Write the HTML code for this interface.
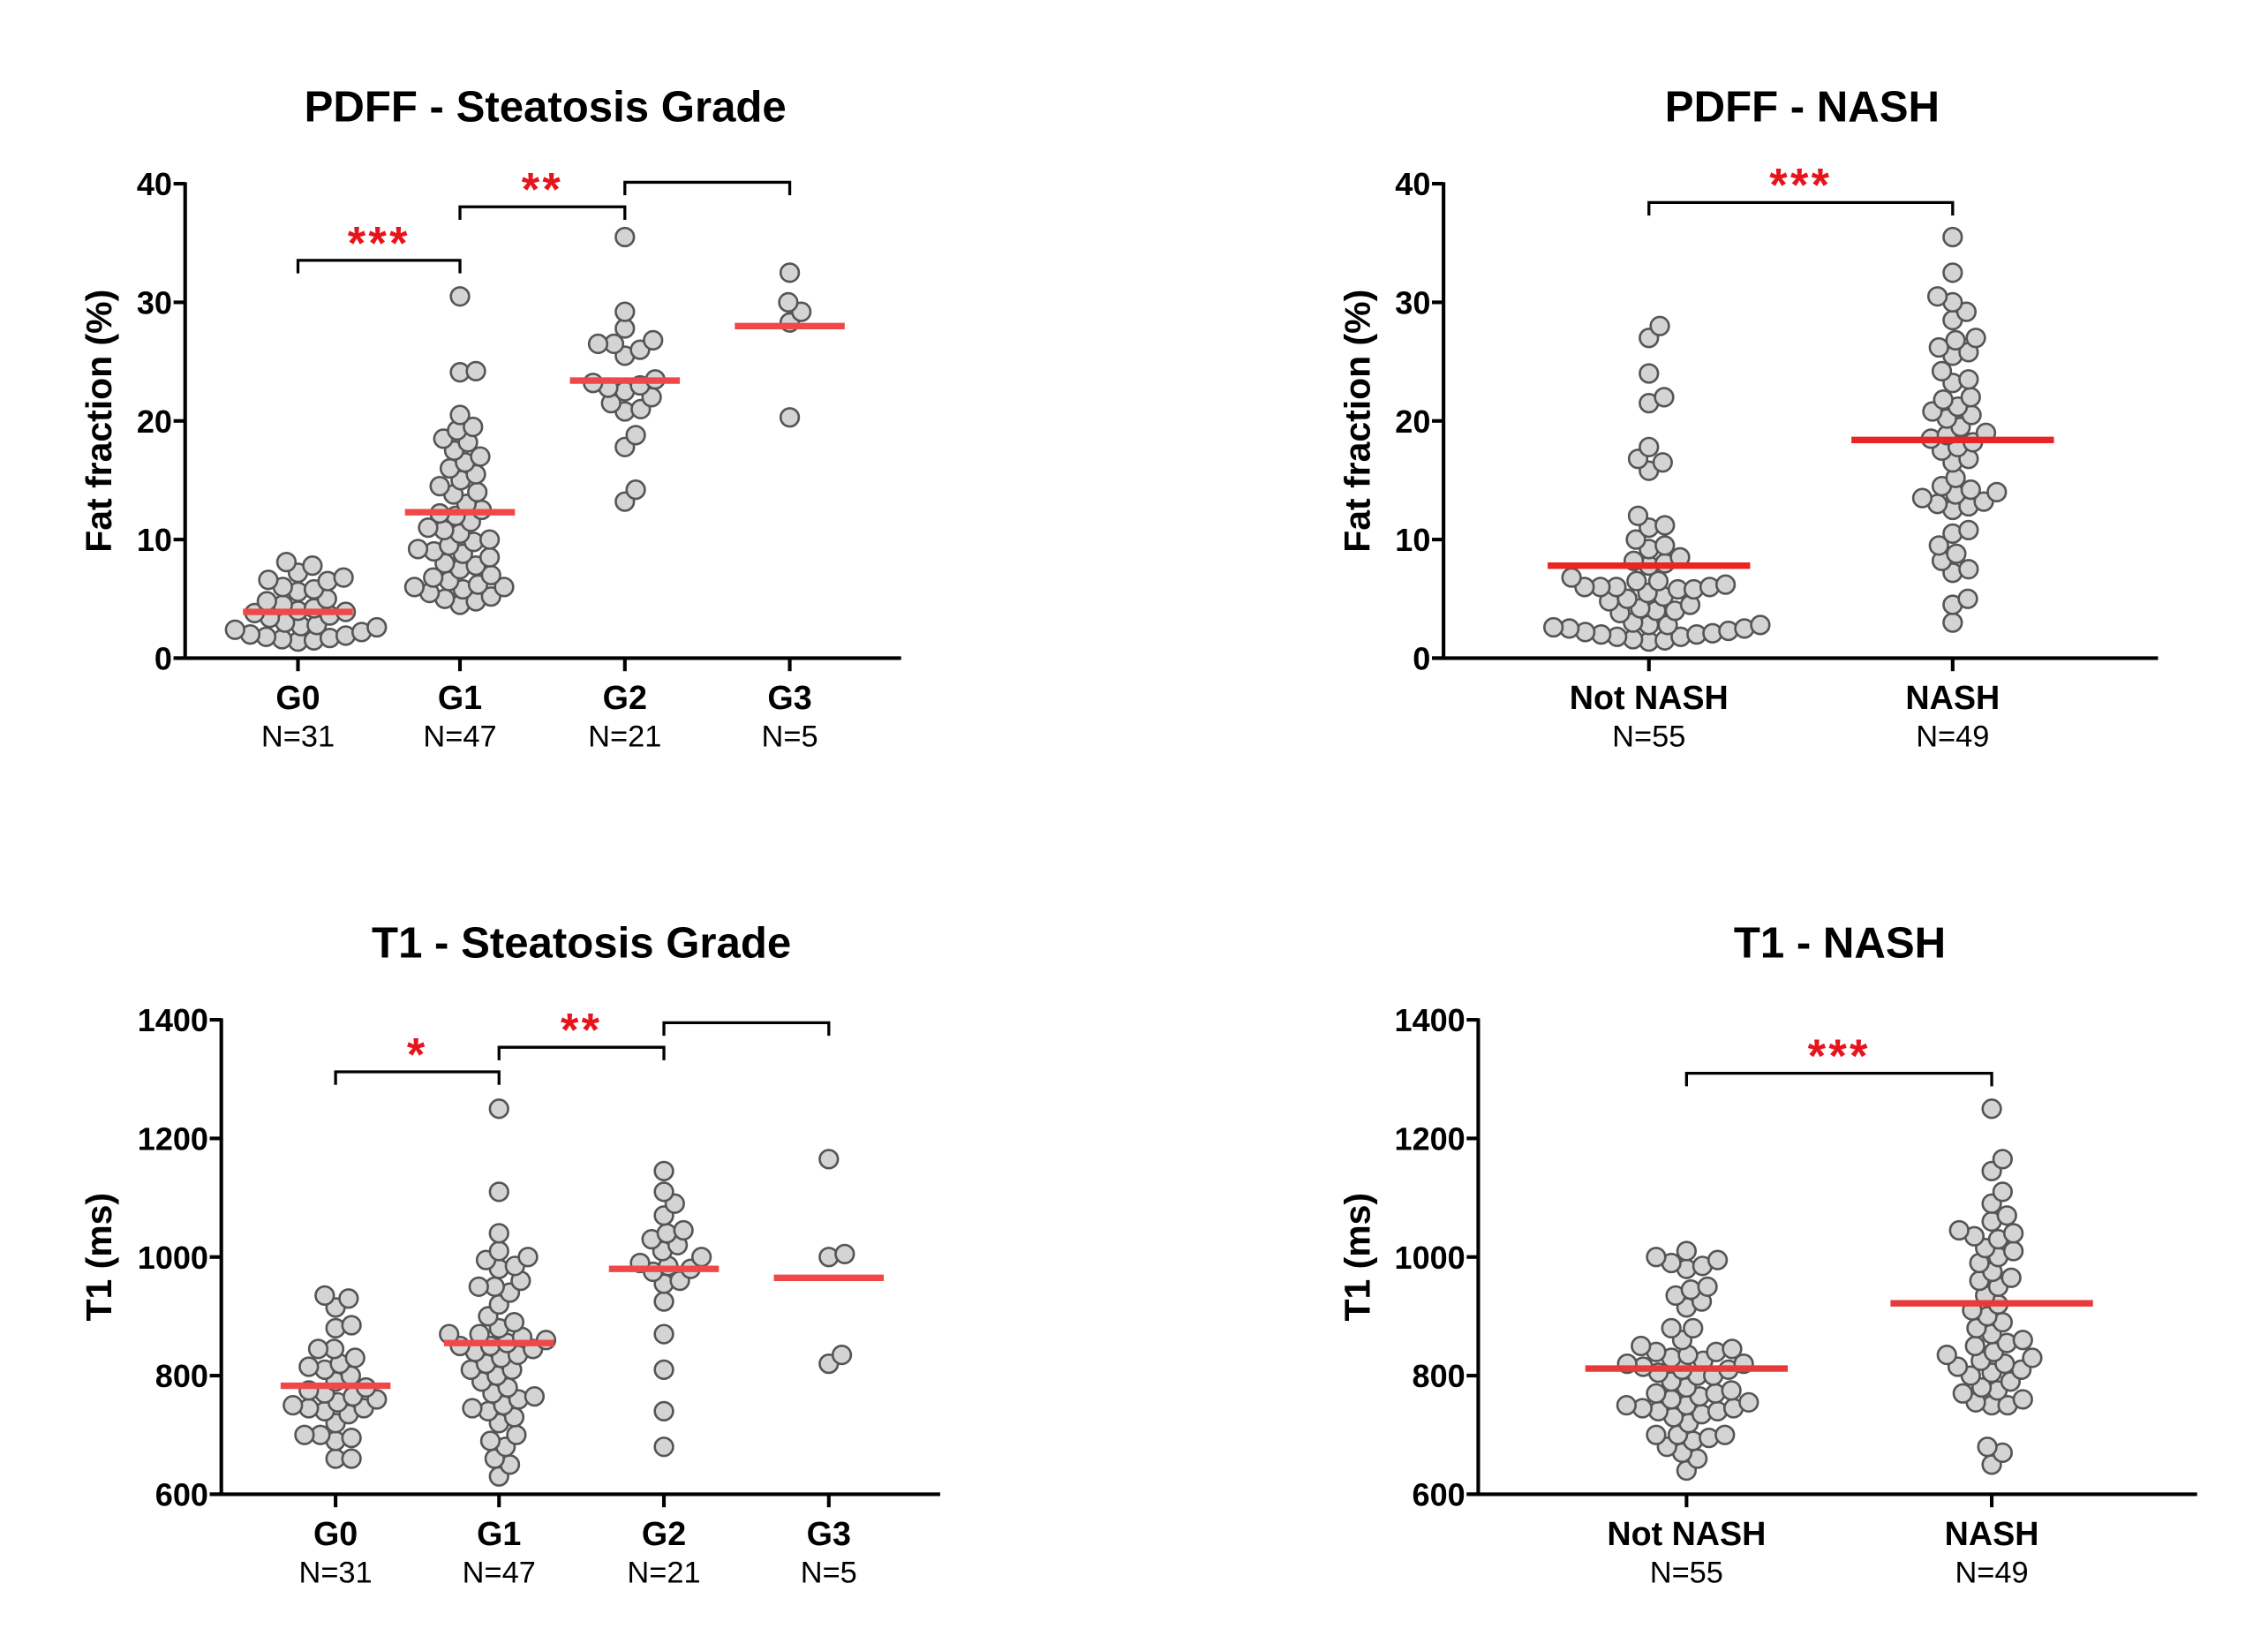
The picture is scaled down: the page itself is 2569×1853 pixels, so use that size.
<!DOCTYPE html>
<html><head><meta charset="utf-8"><style>
html,body{margin:0;padding:0;background:#fff;}
svg{display:block;font-family:"Liberation Sans",Arial,sans-serif;}
</style></head><body>
<svg id="fig" width="2569" height="1853" viewBox="0 0 1568 1131" xmlns="http://www.w3.org/2000/svg"></svg>
<script>
// ---- data ----
const pdffGradeCats = ["G0","G1","G2","G3"];
const pdffGradeNs = ["N=31","N=47","N=21","N=5"];
const pdffG0 = [8.1,7.8,7.2,6.8,6.6,6.5,6.0,5.8,5.6,5.0,4.8,4.5,4.2,4.0,3.9,3.8,3.6,3.4,3.0,2.8,2.7,2.6,2.4,2.2,2.0,1.9,1.8,1.7,1.6,1.5,1.4];
const pdffG1 = [30.5,24.2,24.1,20.5,19.5,19.2,18.5,18.2,17.5,17.0,16.5,16.0,15.5,15.0,14.5,14.0,13.8,13.0,12.5,12.2,12.0,11.5,11.0,10.8,10.5,10.0,9.8,9.5,9.2,9.0,8.8,8.5,8.0,7.8,7.5,7.0,6.8,6.5,6.2,6.0,6.0,5.8,5.5,5.2,5.0,4.8,4.5];
const pdffG2 = [35.5,29.2,27.8,26.8,26.5,26.5,26.0,25.5,23.5,23.2,23.0,22.8,22.5,22.0,21.5,21.0,20.8,18.8,17.8,14.2,13.2];
const pdffG3 = [32.5,30.0,29.2,28.3,20.3];
const pdffGradeMedians = [3.9,12.3,23.4,28.0];

const nashCats = ["Not NASH","NASH"];
const nashNs = ["N=55","N=49"];
const pdffNot = [28,27,24,22,21.5,17.8,16.8,16.5,15.8,12,11.2,11,10,9.5,9.2,8.5,8.2,8,7.8,6.8,6.5,6.5,6.2,6,6,6,6,5.8,5.8,5.5,5.2,5,4.8,4.5,4.2,4,4,3.8,3,2.8,2.8,2.8,2.6,2.5,2.5,2.3,2.2,2.1,2.0,2.0,1.8,1.8,1.6,1.5,1.4];
const pdffNash = [35.5,32.5,30.5,30,29.2,28.5,27,26.8,26.2,25.8,25.5,24.2,23.5,23.2,22,21.8,21.2,20.8,20.5,20.2,19.5,19,18.8,18.5,18.2,17.8,17.5,16.8,16.5,15.2,14.5,14.2,14.0,13.8,13.5,13.2,13.0,12.8,12.5,10.8,10.5,9.5,8.8,8.2,7.5,7.2,5,4.5,3];
const pdffNashMedians = [7.8,18.4];

const t1G0 = [935,930,915,885,880,845,845,830,820,815,810,800,790,780,775,770,765,760,755,750,745,745,740,735,720,700,700,695,690,660,660];
const t1G1 = [1250,1110,1040,1010,1000,995,985,980,960,950,950,940,920,900,890,880,870,870,865,860,855,850,850,845,840,835,830,820,810,810,800,790,780,770,765,760,750,745,740,730,720,700,690,680,660,650,630];
const t1G2 = [1145,1110,1090,1070,1045,1040,1030,1020,1010,1000,990,985,980,975,960,955,925,870,810,740,680];
const t1G3 = [1165,1005,1000,835,820];
const t1GradeMedians = [783,855,980,965];
const t1Not = [1010,1000,995,990,985,980,950,945,935,925,915,880,880,860,850,845,840,840,835,830,825,820,820,815,810,810,805,800,800,790,780,775,770,770,765,760,755,750,750,745,745,740,740,735,730,720,700,700,700,695,690,680,670,660,640];
const t1Nash = [1250,1165,1145,1110,1090,1070,1060,1045,1040,1035,1030,1015,1010,1000,990,975,965,960,950,935,920,910,900,890,880,870,860,855,850,840,835,830,825,820,815,810,805,800,790,780,775,770,760,755,750,750,680,670,650];
const t1NashMedians = [812,922];

const pdffTicks = [0,10,20,30,40];
const t1Ticks = [600,800,1000,1200,1400];

// ---- drawing ----
const NS="http://www.w3.org/2000/svg";
const svg=document.getElementById('fig');
function mk(tag,attrs,parent,text){const e=document.createElementNS(NS,tag);for(const k in attrs)e.setAttribute(k,attrs[k]);if(text!==undefined)e.textContent=text;(parent||svg).appendChild(e);return e;}

function swarm(vals,cx,ys,r){
  const sorted=vals.slice().sort((a,b)=>a-b);const placed=[];const out=[];
  for(const v of sorted){const y=ys(v);let best=0;
    for(let k=0;k<400;k++){const off=(k%2?1:-1)*Math.ceil(k/2)*0.5;let ok=true;
      for(const p of placed){const dx=p.x-(cx+off),dy=p.y-y;if(dx*dx+dy*dy<(2*r*0.86)**2){ok=false;break;}}
      if(ok){best=off;break;}}
    placed.push({x:cx+best,y});out.push({x:cx+best,y,v});}
  return out;
}

function panel(o){
  const g=mk('g',{});
  const ys=v=>o.y0+(v-o.ticks[0])/(o.ticks[o.ticks.length-1]-o.ticks[0])*(o.y1-o.y0);
  const xs=i=>o.cx[i];
  const t=mk('text',{x:o.titleX,y:o.y1-43,'text-anchor':'middle','font-size':30,'font-weight':'bold',fill:'#000'},g,o.title);
  
  const yt=mk('text',{transform:`translate(${o.ytx},${(o.y0+o.y1)/2}) rotate(-90)`,'text-anchor':'middle','font-size':25,'font-weight':'bold',fill:'#000'},g,o.ylabel);
  
  const ya=mk('line',{x1:o.ax,y1:o.y0+1,x2:o.ax,y2:o.y1-1,stroke:'#000','stroke-width':2.5},g);
  
  o.ticks.forEach(tv=>{const y=ys(tv);
    mk('line',{x1:o.ax-8,y1:y,x2:o.ax,y2:y,stroke:'#000','stroke-width':2.5},g);
    const tl=mk('text',{x:o.ax-9,y:y+8,'text-anchor':'end','font-size':22,'font-weight':'bold',fill:'#000'},g,String(tv));
    });
  const xa=mk('line',{x1:o.ax-8,y1:o.y0,x2:o.xend,y2:o.y0,stroke:'#000','stroke-width':2.5},g);
  
  o.cats.forEach((c,i)=>{const x=xs(i);
    mk('line',{x1:x,y1:o.y0,x2:x,y2:o.y0+9,stroke:'#000','stroke-width':2.5},g);
    const cl=mk('text',{x:x,y:o.y0+35,'text-anchor':'middle','font-size':23,'font-weight':'bold',fill:'#000'},g,c);
    
    const nl=mk('text',{x:x,y:o.y0+61,'text-anchor':'middle','font-size':21,fill:'#000'},g,o.ns[i]);
    });
  o.groups.forEach((vals,i)=>{
    const pts=swarm(vals,xs(i),ys,6.3);
    pts.forEach(p=>{const c=mk('circle',{cx:p.x,cy:p.y,r:6.3,fill:'#d4d4d4',stroke:'#555','stroke-width':1.6},g);
      });
  });
  o.medians.forEach((m,i)=>{const y=ys(m);
    const l=mk('line',{x1:xs(i)-o.mw,y1:y,x2:xs(i)+o.mw,y2:y,stroke:o.mcol,'stroke-width':4.5},g);
    });
  o.brackets.forEach(b=>{const x1=xs(b[0]),x2=xs(b[1]),y=b[2];
    const p=mk('path',{d:`M${x1},${y+9}V${y}H${x2}V${y+9}`,fill:'none',stroke:'#000','stroke-width':2},g);
    
    if(b[3]){const s=mk('text',{x:(x1+x2)/2,y:y-1,'text-anchor':'middle','font-size':32,'font-weight':'bold',fill:'#e8141c','letter-spacing':2},g,b[3]);
      }});
}

panel({name:'pdff-grade-panel',title:'PDFF - Steatosis Grade',titleX:377,ylabel:'Fat fraction (%)',ax:128,ytx:77,xend:623,y0:455,y1:127,ticks:pdffTicks,
  cats:pdffGradeCats,ns:pdffGradeNs,cx:[206,318,432,546],groups:[pdffG0,pdffG1,pdffG2,pdffG3],medians:pdffGradeMedians,mw:38,mcol:'#f04848',
  brackets:[[0,1,180,'***'],[1,2,143,'**'],[2,3,126,'']]});
panel({name:'pdff-nash-panel',title:'PDFF - NASH',titleX:1246,ylabel:'Fat fraction (%)',ax:998,ytx:947,xend:1492,y0:455,y1:127,ticks:pdffTicks,
  cats:nashCats,ns:nashNs,cx:[1140,1350],groups:[pdffNot,pdffNash],medians:pdffNashMedians,mw:70,mcol:'#e82424',
  brackets:[[0,1,140,'***']]});
panel({name:'t1-grade-panel',title:'T1 - Steatosis Grade',titleX:402,ylabel:'T1 (ms)',ax:153,ytx:77,xend:650,y0:1033,y1:705,ticks:t1Ticks,
  cats:pdffGradeCats,ns:pdffGradeNs,cx:[232,345,459,573],groups:[t1G0,t1G1,t1G2,t1G3],medians:t1GradeMedians,mw:38,mcol:'#f04848',
  brackets:[[0,1,741,'*'],[1,2,724,'**'],[2,3,707,'']]});
panel({name:'t1-nash-panel',title:'T1 - NASH',titleX:1272,ylabel:'T1 (ms)',ax:1022,ytx:947,xend:1519,y0:1033,y1:705,ticks:t1Ticks,
  cats:nashCats,ns:nashNs,cx:[1166,1377],groups:[t1Not,t1Nash],medians:t1NashMedians,mw:70,mcol:'#e83a3a',
  brackets:[[0,1,742,'***']]});
</script>
</body></html>
